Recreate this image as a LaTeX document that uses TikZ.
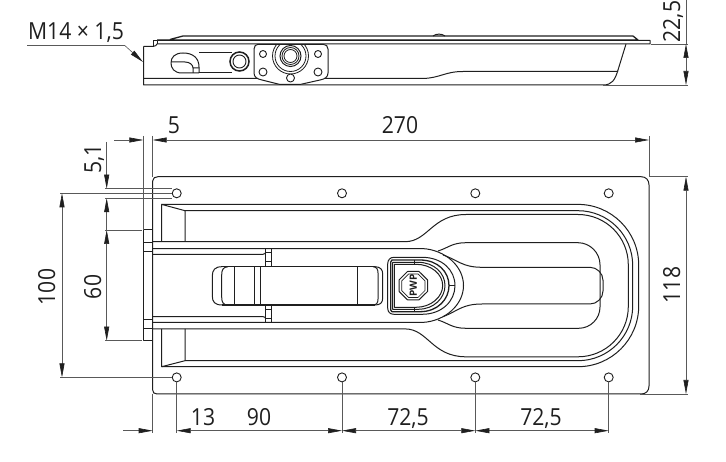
\documentclass[tikz,border=0pt]{standalone}
\usepackage{fontspec}
\setmainfont{Open Sans}
\usetikzlibrary{arrows.meta}
\definecolor{ink}{gray}{0.12}
\definecolor{thin}{gray}{0.35}
\newcommand{\dimtxt}[1]{\scalebox{0.9}[1]{#1}}
\tikzset{
  part/.style={draw=ink,line width=1pt,line join=round},
  heavy/.style={draw=ink,line width=1.3pt,line join=round},
  fine/.style={draw=ink,line width=0.7pt},
  ext/.style={draw=thin,line width=0.6pt},
  dim/.style={draw=thin,line width=0.6pt,arrows={Triangle[length=14pt,width=5pt,color=ink]-Triangle[length=14pt,width=5pt,color=ink]}},
  dimR/.style={draw=thin,line width=0.6pt,arrows={-Triangle[length=14pt,width=5pt,color=ink]}},
  lab/.style={font=\fontsize{23.5}{24}\selectfont,text=ink,inner sep=0pt},
  hole/.style={draw=ink,line width=0.9pt,fill=white,circle,inner sep=0pt,minimum size=9pt},
}
\begin{document}
\begin{tikzpicture}[x=1pt,y=-1pt]
\useasboundingbox[fill=white] (0,0) rectangle (726,462);
% ------- side view
\draw[part] (143.5,46.5) -- (143.5,85) -- (603,85) .. controls (612,85) and (615,80) .. (618,70) -- (626,44);
\draw[part] (143.5,78.5) -- (423,78.5) .. controls (440,78) and (445,71.5) .. (463,71.5) -- (618,71.5);
\draw[part] (143.5,46.5) -- (153,46.5) .. controls (156,46.5) and (156,45) .. (157,44) -- (650,44) -- (650,40.5) -- (158,40.5);
\draw[heavy] (157,40) -- (638,40) -- (633,36) -- (183,36) -- (170,39.5);
\draw[part] (153,47) -- (153,40.5) -- (157,40.5) -- (157,44);
\draw[part] (433,36) .. controls (436,33.5) and (442,33.5) .. (445,36);
\draw[part] (199,52.5) -- (232,52.5) (199,73) -- (232,73);
\draw[part] (199,73) -- (182,73) .. controls (174,73) and (171,68) .. (171,63) .. controls (171,57) and (175,53) .. (183,53) .. controls (193,53) and (199,58) .. (199,67) -- (199,73);
\draw[part] (171,62) -- (185,62) .. controls (190,62) and (193,65) .. (193,68) -- (193,73) (193,68) -- (199,68);
\node[circle,draw=ink,line width=1.5pt,minimum size=19pt,inner sep=0pt,fill=white] (boltA) at (239.5,61.5) {};
\node[circle,draw=ink,line width=0.9pt,minimum size=13pt,inner sep=0pt] (boltB) at (239.5,61.5) {};
\draw[part,fill=white] (258,44.3) -- (323,44.3) .. controls (326,44.3) and (328,46) .. (328,49) -- (328,73) .. controls (328,77) and (325,79) .. (320,80) -- (300,84.5) -- (280,84.5) -- (262,80) .. controls (257,79) and (254,77) .. (254,73) -- (254,49) .. controls (254,46) and (256,44.3) .. (258,44.3) -- cycle;
\begin{scope}
\clip (250,44.3) rectangle (332,90);
\foreach \r/\w in {18/0.8,15.5/0.8,10.5/1,8.5/0.8,6.5/0.8}
  \draw[draw=ink,line width=\w pt] (290.5,56) circle[radius=\r];
\end{scope}
\node[hole,minimum size=7pt] (sa) at (263,54) {};
\node[hole,minimum size=8pt] (sb) at (263,72) {};
\node[hole,minimum size=7pt] (sc) at (318,54) {};
\node[hole,minimum size=8pt] (sd) at (318,72) {};
\node[hole,minimum size=8pt] (se) at (290.5,78) {};
% ------- plan view: plate
\draw[part] (161,176.7) -- (641,176.7) .. controls (646,176.7) and (649,180) .. (649,185) -- (649,386) .. controls (649,391) and (646,394) .. (641,394) -- (157,394) .. controls (154,394) and (152.7,392.5) .. (152.7,390) -- (152.7,181) .. controls (152.7,178) and (155,176.7) .. (158,176.7) -- cycle;
% recess
\draw[part] (185,241.7) -- (185,210.7) -- (161.7,204.4) -- (161.7,241.7);
\draw[part] (161.7,204.4) -- (578,204.4) .. controls (611.5,204.4) and (638.7,231.6) .. (638.7,265.1) -- (638.7,306) .. controls (638.7,339.5) and (611.5,366.7) .. (578,366.7) -- (161.7,366.7);
\draw[part] (185,210.7) -- (578,210.7) .. controls (608.2,210.7) and (632.7,235.2) .. (632.7,265.4) -- (632.7,306) .. controls (632.7,336.2) and (608.2,360.7) .. (578,360.7) -- (185,360.7);
\draw[part] (185,329) -- (185,360.7) -- (161.7,366.7) -- (161.7,329);
\draw[part] (152.7,241.7) -- (405,241.7) .. controls (428,241.7) and (432,214.5) .. (466,214.5) -- (578,214.5) .. controls (605.8,214.5) and (628.3,237) .. (628.3,264.8) -- (628.3,306.5) .. controls (628.3,334.3) and (605.8,356.8) .. (578,356.8) -- (466,356.8) .. controls (432,356.8) and (428,328.9) .. (405,328.9) -- (152.7,328.9);
% left protrusion
\draw[part] (152.7,230) -- (143.3,230) -- (143.3,340.7) -- (152.7,340.7);
\draw[part] (143.3,242.3) -- (152.7,242.3) (143.3,251.7) -- (152.7,251.7) (143.3,320) -- (152.7,320) (143.3,328.6) -- (152.7,328.6);
% handle bars
\draw[part] (152.7,248.6) -- (423,248.6) .. controls (445,250) and (463.5,266) .. (463.5,285.5) .. controls (463.5,305) and (445,321) .. (423,322.4) -- (152.7,322.4);
\draw[part] (152.7,254.3) -- (263,254.3) .. controls (265,254.3) and (265.7,253) .. (265.7,252) (152.7,316.6) -- (263,316.6) .. controls (265,316.6) and (265.7,318) .. (265.7,319);
\draw[part] (265.7,248.6) -- (265.7,266.7) (271.7,248.6) -- (271.7,266.7) (265.7,252.7) -- (271.7,252.7) (265.7,261.7) -- (271.7,261.7);
\draw[part] (265.7,305) -- (265.7,322.4) (271.7,305) -- (271.7,322.4) (265.7,309.5) -- (271.7,309.5) (265.7,318.5) -- (271.7,318.5);
% grip
\draw[part] (438,251) .. controls (448,248) and (452,242.7) .. (466,242.7) -- (578,242.7) .. controls (590,242.7) and (600,252.7) .. (600,264.7) -- (600,307) .. controls (600,318.8) and (590.4,328.3) .. (578.7,328.3) -- (466,328.3) .. controls (452,328.3) and (448,323) .. (438,320);
\draw[part] (443,255) .. controls (458,260) and (462,267.3) .. (482,267.3) -- (590,267.3) .. controls (597,267.3) and (603,273.3) .. (603,280.3) -- (603,291) .. controls (603,298) and (597,304) .. (590,304) -- (482,304) .. controls (462,304) and (458,311) .. (443,316.7);
% centre bar with rounded cap
\draw[heavy] (222,266.7) -- (375,266.7) (222,305) -- (375,305);
\draw[part] (222,266.7) .. controls (215,266.7) and (212.3,270) .. (212.3,276) -- (212.3,296) .. controls (212.3,302) and (215,305) .. (222,305);
\draw[part] (228,266.7) .. controls (223,267) and (221.7,270) .. (221.7,275) -- (221.7,297) .. controls (221.7,302) and (223,305) .. (228,305);
\draw[part] (234,266.7) -- (234,305) (254,266.7) -- (254,305) (260.7,266.7) -- (260.7,305) (357.5,266.7) -- (357.5,305);
\draw[part] (375,266.7) .. controls (380,267) and (382.7,269) .. (382.7,274) -- (382.7,298) .. controls (382.7,303) and (380,305) .. (375,305);
\draw[part] (373,266.7) .. controls (376.5,267) and (378,269) .. (378,273) -- (378,299) .. controls (378,303) and (376.5,305) .. (373,305);
% lock head
\draw[part] (394,257.3) -- (422,257.3) .. controls (442,257.3) and (455,270) .. (455,285.6) .. controls (455,301) and (442,314.3) .. (422,314.3) -- (394,314.3) .. controls (390,314.3) and (387.7,312) .. (387.7,308) -- (387.7,264) .. controls (387.7,260) and (390,257.3) .. (394,257.3) -- cycle;
\draw[heavy] (392,260) -- (420,260) .. controls (438,260) and (449,272) .. (449,285.6) .. controls (449,299) and (438,311.7) .. (420,311.7) -- (392,311.7) -- (390.7,310) -- (390.7,262) -- cycle;
\draw[part] (392.7,262.3) -- (418,262.3) .. controls (434,262.3) and (445,273) .. (445,285.6) .. controls (445,298) and (434,309.3) .. (418,309.3) -- (392.7,309.3) -- cycle;
\draw[part] (394.3,264.3) -- (416,264.3) .. controls (431,264.3) and (442.7,274) .. (442.7,285.6) .. controls (442.7,297) and (431,307.3) .. (416,307.3) -- (394.3,307.3) -- cycle;
\draw[part] (414,260) -- (414,264.3) (414,307.3) -- (414,311.7) (449,285.6) -- (455,285.6);
\node[inner sep=0pt,text=ink] (logo) at (413.3,285.7) {\rotatebox{90}{\fontsize{10}{10}\selectfont\bfseries PWP}};
\draw[part] (407.5,271.5) -- (419,271.5) -- (427.5,279.8) -- (427.5,291.5) -- (419,299.8) -- (407.5,299.8) -- (399.2,291.5) -- (399.2,279.8) -- cycle;
\draw[fine] (408.5,274) -- (418,274) -- (425,281) -- (425,290.5) -- (418,297.5) -- (408.5,297.5) -- (401.7,290.5) -- (401.7,281) -- cycle;
% ------- dimension anchors
\coordinate (e5top) at (143.3,136);
\coordinate (e5bot) at (143.3,230);
\coordinate (p0top) at (152.7,136);
\coordinate (p0bot) at (152.7,177);
\coordinate (r0top) at (649,136);
\coordinate (r0bot) at (649,177);
\draw[ext] (e5top) -- (e5bot) (p0top) -- (p0bot) (r0top) -- (r0bot);
\coordinate (d5l) at (114,140); \coordinate (d5a) at (143.3,140);
\coordinate (d5b) at (152.7,140); \coordinate (d5r) at (649,140);
\draw[dimR] (d5l) -- (d5a);
\draw[dim] (d5b) -- (d5r);
% 5,1 / 60
\coordinate (x51t) at (106.7,142); \coordinate (x51a) at (106.7,188.7);
\coordinate (x51b) at (106.7,198.2); \coordinate (x60a) at (106.7,230); \coordinate (x60b) at (106.7,340.7);
\draw[dimR] (x51t) -- (x51a);
\draw[dimR] (x60a) -- (x51b);
\draw[dim] (x60a) -- (x60b);
\coordinate (h1l) at (105,188.7); \coordinate (h1r) at (172,188.7);
\coordinate (h2l) at (105,198.2); \coordinate (h2r) at (172,198.2);
\coordinate (h3r) at (142,230); \coordinate (h4l) at (105,340.7); \coordinate (h4r) at (142,340.7); \coordinate (h3l) at (105,230);
\draw[ext] (h1l) -- (h1r) (h2l) -- (h2r) (h3l) -- (h3r) (h4l) -- (h4r);
% holes (drawn after extension lines so those stop at the rim)
\foreach \x/\n in {176.7/a,342/b,475.3/c,608.7/d}{
  \node[hole] (t\n) at (\x,193.3) {};
  \node[hole] (b\n) at (\x,377.4) {};
}
% 100
\coordinate (d100a) at (62,193.3); \coordinate (d100b) at (62,377.4);
\coordinate (d100ah) at (60,193.3); \coordinate (d100bh) at (60,377.4);
\draw[ext] (d100ah) -- (ta) (d100bh) -- (ba);
\draw[dim] (d100a) -- (d100b);
% 118
\coordinate (d118a) at (686,176.7); \coordinate (d118b) at (686,394);
\coordinate (e118a) at (649,176.7); \coordinate (e118ae) at (688,176.7);
\coordinate (e118b) at (640,394); \coordinate (e118be) at (688,394);
\draw[ext] (e118a) -- (e118ae) (e118b) -- (e118be);
\draw[dim] (d118a) -- (d118b);
% bottom chain
\coordinate (bp) at (152.7,394); \coordinate (bpe) at (152.7,432.5);
\foreach \n/\x in {a/176.7,b/342,c/475.3,d/608.7}{
  \coordinate (b\n e) at (\x,432.5);
  \draw[ext] (b\n) -- (b\n e);
}
\draw[ext] (bp) -- (bpe);
\coordinate (dbl) at (123,430.7); \coordinate (db0) at (152.7,430.7);
\coordinate (db1) at (176.7,430.7); \coordinate (db2) at (342,430.7);
\coordinate (db3) at (475.3,430.7); \coordinate (db4) at (608.7,430.7);
\draw[dimR] (dbl) -- (db0);
\draw[dim] (db1) -- (db2);
\draw[dim] (db2) -- (db3);
\draw[dim] (db3) -- (db4);
% 22,5
\coordinate (d22t) at (686,0); \coordinate (d22a) at (686,44); \coordinate (d22b) at (686,85);
\coordinate (e22a) at (651,44); \coordinate (e22ae) at (688,44);
\coordinate (e22b) at (603,85); \coordinate (e22be) at (688,85);
\draw[ext] (e22a) -- (e22ae) (e22b) -- (e22be) (d22t) -- (d22a);
\draw[dim] (d22a) -- (d22b);
% M14 leader
\coordinate (ml) at (27,45.7); \coordinate (mk) at (125,45.7); \coordinate (mt) at (143,62);
\draw[ext] (ml) -- (mk);
\draw[dimR] (mk) -- (mt);
% ------- labels
\node[lab,anchor=base] (lm) at (76,40) {\dimtxt{M14\hspace{0.26em}×\hspace{0.26em}1,5}};
\node[lab,anchor=base] (l5) at (174,134) {\dimtxt{5}};
\node[lab,anchor=base] (l270) at (400,134) {\dimtxt{270}};
\node[lab,anchor=base,rotate=90] (l51) at (101,159) {\dimtxt{5,1}};
\node[lab,anchor=base,rotate=90] (l100) at (55,287) {\dimtxt{100}};
\node[lab,anchor=base,rotate=90] (l60) at (101,287) {\dimtxt{60}};
\node[lab,anchor=base,rotate=90] (l118) at (680,285) {\dimtxt{118}};
\node[lab,anchor=base,rotate=90] (l22) at (680,21.5) {\dimtxt{22,5}};
\node[lab,anchor=base] (l13) at (203,425) {\dimtxt{13}};
\node[lab,anchor=base] (l90) at (259,425) {\dimtxt{90}};
\node[lab,anchor=base] (l72a) at (408,425) {\dimtxt{72,5}};
\node[lab,anchor=base] (l72b) at (541,425) {\dimtxt{72,5}};
\end{tikzpicture}
\end{document}
